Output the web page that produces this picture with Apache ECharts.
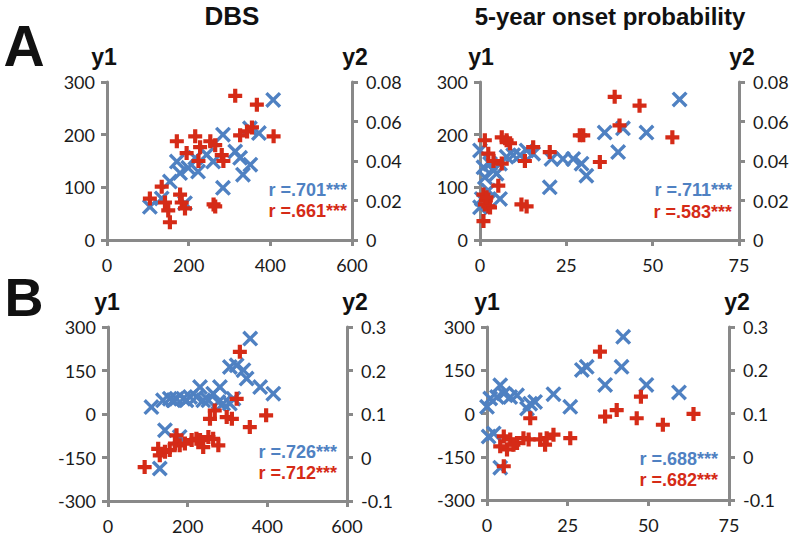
<!DOCTYPE html>
<html>
<head>
<meta charset="utf-8">
<script src="https://cdn.jsdelivr.net/npm/echarts@6/dist/echarts.min.js"></script>
<style>
  html, body { margin: 0; padding: 0; background: #fff; }
  #chart { width: 793px; height: 541px; }
</style>
</head>
<body>
<div id="chart"></div>
<script>
  // tick labels of the axes
  const dbsTicks = [0, 200, 400, 600]
  const onsetTicks = [0, 25, 50, 75]
  const y1TicksA = [0, 100, 200, 300]
  const y2TicksA = [0, 0.02, 0.04, 0.06, 0.08]
  const y1TicksB = [-300, -150, 0, 150, 300]
  const y2TicksB = [-0.1, 0, 0.1, 0.2, 0.3]

  // A / DBS : blue = [x, y1], red = [x, y2]
  const aDbsBlue = [
    [105, 63], [134, 79], [191, 70], [154, 111], [179, 127], [171, 149], [199, 137],
    [223, 130], [216, 156], [244, 162], [260, 149], [284, 200], [284, 99], [314, 168],
    [326, 156], [333, 124], [351, 143], [350, 212], [372, 203], [407, 266]
  ]
  const aDbsRed = [
    [314, 0.073], [367, 0.0685], [343, 0.055], [355, 0.057], [326, 0.053], [408, 0.0525],
    [171, 0.050], [216, 0.0525], [253, 0.050], [265, 0.048], [195, 0.044], [228, 0.047],
    [224, 0.040], [281, 0.043], [285, 0.040], [134, 0.027], [105, 0.021], [142, 0.019],
    [179, 0.023], [183, 0.019], [191, 0.016], [150, 0.015], [154, 0.009], [261, 0.018],
    [265, 0.017]
  ]

  // A / 5-year onset probability
  const aOnsetBlue = [
    [57.8, 267], [48.2, 204], [41.4, 212], [36.1, 204], [40, 167], [30.8, 122], [29.4, 145],
    [27, 154], [24, 154], [20.7, 154], [20.2, 100], [15.4, 164], [13.5, 170], [11.6, 161],
    [9.6, 161], [7.7, 158], [5.8, 145], [4.8, 126], [5.8, 78], [2.9, 145], [1.4, 119],
    [1.0, 138], [0, 170], [0.5, 78], [0, 62], [2.4, 94], [3.9, 132]
  ]
  const aOnsetRed = [
    [39, 0.0725], [46.2, 0.068], [40.4, 0.058], [28.9, 0.053], [29.9, 0.053], [55.7, 0.052],
    [34.7, 0.0395], [20.2, 0.0445], [15.4, 0.047], [13, 0.040], [12, 0.018], [13.5, 0.017],
    [6.3, 0.052], [7.7, 0.0505], [8.7, 0.049], [1.4, 0.0505], [2.4, 0.0437], [3.9, 0.040],
    [6.3, 0.0387], [5.3, 0.0275], [1, 0.023], [1.7, 0.020], [2.4, 0.017], [2.9, 0.0165],
    [1.4, 0.018], [1, 0.0096], [1.9, 0.0216]
  ]

  // B / DBS
  const bDbsBlue = [
    [357, 260], [323, 168], [306, 162], [340, 151], [348, 122], [382, 93], [415, 70],
    [315, 53], [281, 93], [264, 70], [277, 41], [231, 93], [222, 59], [206, 59], [189, 53],
    [172, 53], [155, 53], [138, 47], [164, 47], [197, 47], [239, 47], [252, 47], [289, 36],
    [306, 36], [109, 24], [143, -56], [180, -79], [130, -188]
  ]
  const bDbsRed = [
    [331, 0.243], [323, 0.135], [268, 0.108], [256, 0.089], [298, 0.093], [311, 0.089],
    [356, 0.070], [397, 0.097], [92, -0.022], [126, 0.020], [143, 0.013], [155, 0.017],
    [168, 0.032], [180, 0.028], [193, 0.032], [210, 0.040], [222, 0.043], [239, 0.024],
    [252, 0.047], [264, 0.043], [277, 0.028], [172, 0.051], [231, 0.040], [130, 0.005]
  ]

  // B / 5-year onset probability
  const bOnsetBlue = [
    [42.2, 266], [41.7, 162], [30.9, 162], [29.4, 151], [36.6, 99], [49.4, 99], [59.5, 73],
    [20.6, 67], [25.8, 23], [13.4, 34], [14.9, 40], [12.4, 17], [9.3, 63], [7.2, 57],
    [5.2, 69], [4.1, 98], [3.1, 57], [1, 52], [0, 23], [0.5, -80], [2.1, -69], [4.1, -188]
  ]
  const bOnsetRed = [
    [35, 0.243], [47.7, 0.139], [40.2, 0.108], [36.6, 0.093], [46.4, 0.089], [54.5, 0.074],
    [64, 0.099], [13.4, 0.089], [25.8, 0.043], [20.6, 0.051], [18.5, 0.043], [16.5, 0.040],
    [12.9, 0.040], [11.3, 0.043], [9.3, 0.032], [7.2, 0.040], [5.2, 0.047], [6.2, 0.017],
    [4.1, 0.024], [5.2, -0.022], [8.2, 0.028], [18, 0.028]
  ]

  const rTexts = [
    ['r =.701***', 'r =.661***'],
    ['r =.711***', 'r =.583***'],
    ['r =.726***', 'r =.712***'],
    ['r =.688***', 'r =.682***']
  ]

  const BLUE = '#4f81c2'
  const RED = '#d52b17'
  const AXIS = '#898989'
  const crossPath = 'path://M0,1.5L1.5,0L5,3.5L8.5,0L10,1.5L6.5,5L10,8.5L8.5,10L5,6.5L1.5,10L0,8.5L3.5,5Z'
  const plusPath = 'path://M3.5,0H6.5V3.5H10V6.5H6.5V10H3.5V6.5H0V3.5H3.5Z'

  // one entry per panel: grid box in px and which data/ticks it uses
  const panels = [
    { box: [107, 82, 245, 158], x: dbsTicks, y1: y1TicksA, y2: y2TicksA, blue: aDbsBlue, red: aDbsRed,
      names: [[104, 57], [355, 57]], r: [347, 190, 211] },
    { box: [480, 82, 259, 158], x: onsetTicks, y1: y1TicksA, y2: y2TicksA, blue: aOnsetBlue, red: aOnsetRed,
      names: [[481, 57], [742, 57]], r: [732, 190, 212] },
    { box: [108, 327, 239, 174], x: dbsTicks, y1: y1TicksB, y2: y2TicksB, blue: bDbsBlue, red: bDbsRed,
      names: [[107, 302], [355, 302]], r: [337, 452, 473] },
    { box: [487, 327, 242, 173], x: onsetTicks, y1: y1TicksB, y2: y2TicksB, blue: bOnsetBlue, red: bOnsetRed,
      names: [[487, 302], [737, 302]], r: [718, 459, 480] }
  ]

  const lineStyle = { color: AXIS, width: 3 }
  const labelFont = { fontFamily: 'Lato', fontSize: 18, color: '#1a1a1a' }

  function axisFrom (ticks, extra) {
    return Object.assign({
      type: 'value',
      min: ticks[0],
      max: ticks[ticks.length - 1],
      interval: ticks[1] - ticks[0],
      axisLine: { show: true, onZero: false, lineStyle: lineStyle },
      axisTick: { show: true, length: 6, lineStyle: lineStyle },
      splitLine: { show: false },
      axisLabel: Object.assign({ margin: 12 }, labelFont)
    }, extra)
  }

  const grid = []
  const xAxis = []
  const yAxis = []
  const series = []
  const graphic = []

  panels.forEach(function (p, i) {
    grid.push({ left: p.box[0], top: p.box[1], width: p.box[2], height: p.box[3] })
    xAxis.push(axisFrom(p.x, { gridIndex: i, position: 'bottom',
      axisLabel: Object.assign({ margin: 16 }, labelFont) }))
    yAxis.push(axisFrom(p.y1, { gridIndex: i, position: 'left' }))
    yAxis.push(axisFrom(p.y2, { gridIndex: i, position: 'right',
      axisLabel: Object.assign({ margin: 14 }, labelFont) }))
    series.push({
      type: 'scatter', xAxisIndex: i, yAxisIndex: i * 2, data: p.blue,
      symbol: crossPath, symbolSize: 16, itemStyle: { color: BLUE, opacity: 1 }
    })
    series.push({
      type: 'scatter', xAxisIndex: i, yAxisIndex: i * 2 + 1, data: p.red,
      symbol: plusPath, symbolSize: 14, itemStyle: { color: RED, opacity: 1 }
    })
    ;['y1', 'y2'].forEach(function (t, k) {
      graphic.push({ type: 'text', x: p.names[k][0], y: p.names[k][1],
        style: { text: t, fill: '#111', font: 'bold 23px "Liberation Sans"', align: 'center', verticalAlign: 'middle' } })
    })
    graphic.push({ type: 'text', x: p.r[0], y: p.r[1],
      style: { text: rTexts[i][0], fill: BLUE, font: 'bold 18px "Liberation Sans"', align: 'right', verticalAlign: 'middle' } })
    graphic.push({ type: 'text', x: p.r[0], y: p.r[2],
      style: { text: rTexts[i][1], fill: RED, font: 'bold 18px "Liberation Sans"', align: 'right', verticalAlign: 'middle' } })
  })

  // column titles and panel letters
  graphic.push({ type: 'text', x: 232, y: 16,
    style: { text: 'DBS', fill: '#111', font: 'bold 26px "Liberation Sans"', align: 'center', verticalAlign: 'middle' } })
  graphic.push({ type: 'text', x: 610, y: 16,
    style: { text: '5-year onset probability', fill: '#111', font: 'bold 24px "Liberation Sans"', align: 'center', verticalAlign: 'middle' } })
  graphic.push({ type: 'text', x: 24, y: 46,
    style: { text: 'A', fill: '#111', font: 'bold 57px "Liberation Sans"', align: 'center', verticalAlign: 'middle' } })
  graphic.push({ type: 'text', x: 24, y: 297,
    style: { text: 'B', fill: '#111', font: 'bold 54px "Liberation Sans"', align: 'center', verticalAlign: 'middle' } })

  let chart = echarts.init(document.getElementById('chart'), null, { renderer: 'svg' })
  chart.setOption({
    animation: false,
    backgroundColor: '#fff',
    grid: grid,
    xAxis: xAxis,
    yAxis: yAxis,
    series: series,
    graphic: graphic
  })
</script>
</body>
</html>
